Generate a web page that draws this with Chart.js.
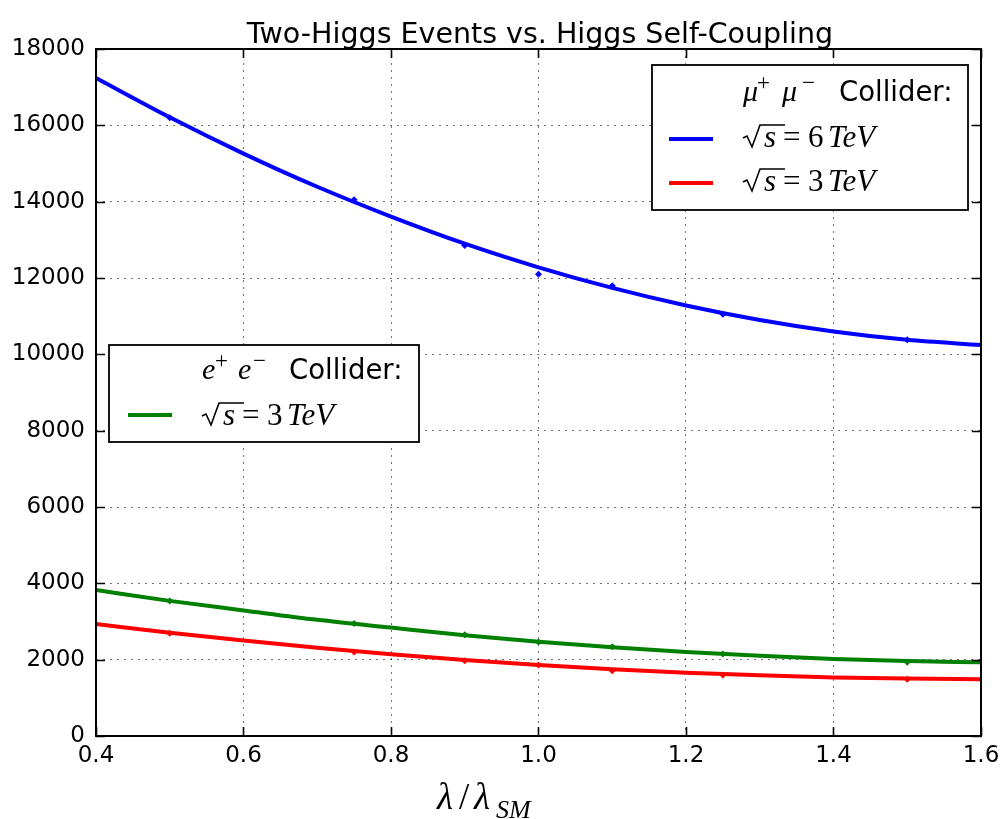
<!DOCTYPE html>
<html>
<head>
<meta charset="utf-8">
<script src="https://cdn.jsdelivr.net/npm/chart.js@4.4.1/dist/chart.umd.min.js"></script>
<style>
  html, body { margin: 0; padding: 0; background: #fff; }
  canvas { display: block; }
</style>
</head>
<body>
<canvas id="higgs" width="1001" height="819"></canvas>
<script>
// ------------------------------------------------------------
// data
// ------------------------------------------------------------
const curveX = [0.4, 0.5, 0.6, 0.7, 0.8, 0.9, 1.0, 1.1, 1.2, 1.3, 1.4, 1.5, 1.6];
const mumu6Curve = [17240, 16210, 15260, 14390, 13610, 12900, 12280, 11740, 11280, 10900, 10600, 10380, 10245];
const mumu3Curve = [2935, 2705, 2500, 2310, 2140, 1990, 1860, 1750, 1660, 1590, 1535, 1505, 1490];
const ee3Curve = [3825, 3540, 3290, 3045, 2840, 2640, 2470, 2325, 2200, 2100, 2020, 1965, 1930];

const sampleX = [0.5, 0.75, 0.9, 1.0, 1.1, 1.25, 1.5];
const mumu6Points = [16200, 14050, 12850, 12100, 11800, 11050, 10380];
const mumu3Points = [2690, 2200, 1970, 1860, 1710, 1600, 1490];
const ee3Points = [3540, 2950, 2650, 2460, 2340, 2150, 1930];

const xTickValues = [0.4, 0.6, 0.8, 1.0, 1.2, 1.4, 1.6];
const yTickValues = [0, 2000, 4000, 6000, 8000, 10000, 12000, 14000, 16000, 18000];

const titleText = 'Two-Higgs Events vs. Higgs Self-Coupling';

const BLUE = '#0000ff';
const RED = '#ff0000';
const GREEN = '#008000';

const SANS = '"DejaVu Sans", sans-serif';
const MATH = '"Liberation Serif", "DejaVu Serif", serif';

function pairs(xs, ys) {
    return xs.map((x, i) => ({ x: x, y: ys[i] }));
}

function curveSet(ys, color) {
    return {
        data: pairs(curveX, ys),
        showLine: true,
        borderColor: color,
        borderWidth: 4,
        pointRadius: 0,
        cubicInterpolationMode: 'monotone',
        fill: false
    };
}

function pointSet(ys, color) {
    return {
        data: pairs(sampleX, ys),
        showLine: false,
        pointRadius: 3.5,
        pointStyle: 'rectRot',
        backgroundColor: color,
        borderColor: color,
        borderWidth: 0
    };
}

// ------------------------------------------------------------
// text helpers (title, axis label, the two legend boxes)
// ------------------------------------------------------------
function text(ctx, str, x, y, font, align) {
    ctx.font = font;
    ctx.textAlign = align || 'left';
    ctx.textBaseline = 'alphabetic';
    ctx.fillText(str, x, y);
}

function sqrtLabel(ctx, x, b, energy) {
    ctx.save();
    ctx.strokeStyle = '#000';
    ctx.lineWidth = 1.6;
    ctx.beginPath();
    ctx.moveTo(x, b - 9);
    ctx.lineTo(x + 4, b - 11);
    ctx.lineTo(x + 9, b);
    ctx.lineTo(x + 17, b - 22);
    ctx.lineTo(x + 42, b - 22);
    ctx.stroke();
    ctx.restore();
    text(ctx, 's', x + 21, b, 'italic 31px ' + MATH);
    text(ctx, '=', x + 40, b, '31px ' + MATH);
    text(ctx, String(energy), x + 65, b, '31px ' + MATH);
    text(ctx, 'TeV', x + 85, b, 'italic 31px ' + MATH);
}

function legendBox(ctx, x1, y1, x2, y2) {
    ctx.save();
    ctx.fillStyle = '#fff';
    ctx.fillRect(x1, y1, x2 - x1, y2 - y1);
    ctx.strokeStyle = '#000';
    ctx.lineWidth = 1.8;
    ctx.strokeRect(x1, y1, x2 - x1, y2 - y1);
    ctx.restore();
}

function legendLine(ctx, x, y, color) {
    ctx.save();
    ctx.strokeStyle = color;
    ctx.lineWidth = 4;
    ctx.beginPath();
    ctx.moveTo(x, y);
    ctx.lineTo(x + 44, y);
    ctx.stroke();
    ctx.restore();
}

const decorations = {
    id: 'decorations',
    afterDraw(chart) {
        const ctx = chart.ctx;
        const a = chart.chartArea;
        const xs = chart.scales.x;
        const ys = chart.scales.y;
        ctx.save();

        // frame + inward ticks on all four sides
        ctx.strokeStyle = '#000';
        ctx.lineWidth = 1.6;
        ctx.beginPath();
        xTickValues.forEach(v => {
            const px = Math.round(xs.getPixelForValue(v)) + 0.5;
            ctx.moveTo(px, a.bottom); ctx.lineTo(px, a.bottom - 9);
            ctx.moveTo(px, a.top); ctx.lineTo(px, a.top + 9);
        });
        yTickValues.forEach(v => {
            const py = Math.round(ys.getPixelForValue(v)) + 0.5;
            ctx.moveTo(a.left, py); ctx.lineTo(a.left + 9, py);
            ctx.moveTo(a.right, py); ctx.lineTo(a.right - 9, py);
        });
        ctx.stroke();
        ctx.lineWidth = 2;
        ctx.strokeRect(a.left, a.top, a.right - a.left, a.bottom - a.top);

        ctx.fillStyle = '#000';
        // title
        text(ctx, titleText, 540, 43, '28.5px ' + SANS, 'center');

        // x axis label  lambda / lambda_SM
        text(ctx, 'λ', 437, 809, 'italic 37px ' + MATH);
        text(ctx, '/', 459, 809, '37px ' + MATH);
        text(ctx, 'λ', 474, 809, 'italic 37px ' + MATH);
        text(ctx, 'SM', 496, 818, 'italic 26px ' + MATH);

        // legend: mu+ mu- collider
        legendBox(ctx, 652, 65, 968, 210);
        text(ctx, 'μ', 743, 101, 'italic 30px ' + MATH);
        text(ctx, '+', 757, 90, '23px ' + MATH);
        text(ctx, 'μ', 782, 101, 'italic 30px ' + MATH);
        text(ctx, '−', 802, 90, '23px ' + MATH);
        text(ctx, 'Collider:', 839, 101, '27.5px ' + SANS);
        legendLine(ctx, 669, 139, BLUE);
        sqrtLabel(ctx, 743, 147, 6);
        legendLine(ctx, 669, 183, RED);
        sqrtLabel(ctx, 743, 191, 3);

        // legend: e+ e- collider
        legendBox(ctx, 109, 345, 419, 442);
        text(ctx, 'e', 202, 379, 'italic 30px ' + MATH);
        text(ctx, '+', 215, 368, '23px ' + MATH);
        text(ctx, 'e', 238, 379, 'italic 30px ' + MATH);
        text(ctx, '−', 253, 368, '23px ' + MATH);
        text(ctx, 'Collider:', 289, 379, '27.5px ' + SANS);
        legendLine(ctx, 128, 415, GREEN);
        sqrtLabel(ctx, 202, 425, 3);

        ctx.restore();
    }
};

// ------------------------------------------------------------
// chart
// ------------------------------------------------------------
const chart = new Chart(document.getElementById('higgs'), {
    type: 'scatter',
    data: {
        datasets: [
            curveSet(mumu6Curve, BLUE),
            curveSet(ee3Curve, GREEN),
            curveSet(mumu3Curve, RED),
            pointSet(mumu6Points, BLUE),
            pointSet(ee3Points, GREEN),
            pointSet(mumu3Points, RED)
        ]
    },
    options: {
        responsive: false,
        animation: false,
        devicePixelRatio: 1,
        layout: { padding: { left: 0, right: 20, top: 49, bottom: 0 } },
        plugins: {
            legend: { display: false },
            tooltip: { enabled: false },
            title: { display: false }
        },
        scales: {
            x: {
                type: 'linear',
                min: 0.4,
                max: 1.6,
                afterBuildTicks: s => { s.ticks = xTickValues.map(v => ({ value: v })); },
                afterFit: s => {
                    s.height = 83;
                    s.paddingLeft = 0;
                    s.paddingRight = 0;
                },
                ticks: {
                    callback: v => v.toFixed(1),
                    color: '#000',
                    font: { family: 'DejaVu Sans', size: 23 },
                    padding: 6,
                    maxRotation: 0
                },
                grid: { color: 'rgba(0,0,0,0.55)', lineWidth: 1, drawTicks: false },
                border: { display: false, dash: [2, 5] }
            },
            y: {
                type: 'linear',
                min: 0,
                max: 18000,
                afterBuildTicks: s => { s.ticks = yTickValues.map(v => ({ value: v })); },
                afterFit: s => {
                    s.width = 96;
                    s.paddingTop = 0;
                    s.paddingBottom = 0;
                },
                ticks: {
                    callback: v => String(v),
                    color: '#000',
                    font: { family: 'DejaVu Sans', size: 23 },
                    padding: 11
                },
                grid: { color: 'rgba(0,0,0,0.55)', lineWidth: 1, drawTicks: false },
                border: { display: false, dash: [2, 5] }
            }
        }
    },
    plugins: [decorations]
});
</script>
</body>
</html>
